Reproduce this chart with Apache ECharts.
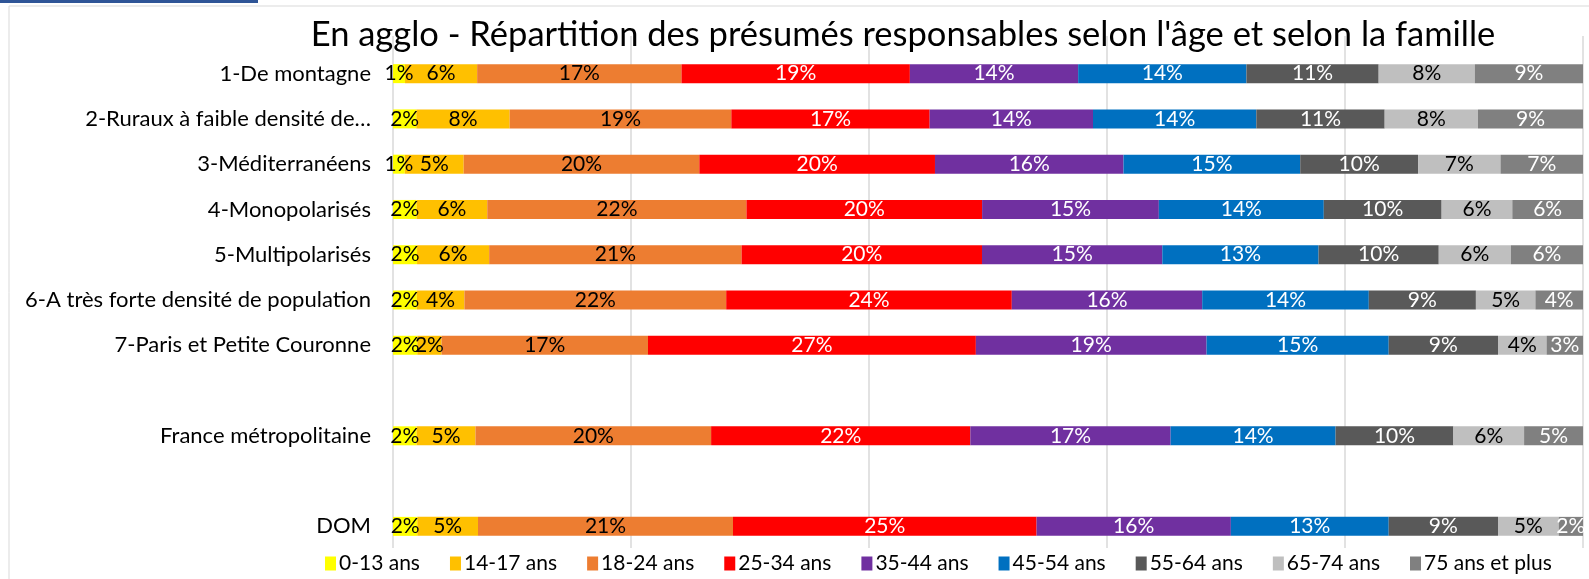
<!DOCTYPE html>
<html>
<head>
<meta charset="utf-8">
<script src="https://cdn.jsdelivr.net/npm/echarts@6/dist/echarts.min.js"></script>
<style>
  html, body { margin: 0; padding: 0; background: #ffffff; }
  #chart { width: 1589px; height: 579px; }
</style>
</head>
<body>
<div id="chart"></div>
<script>
// Families (empty strings are spacer rows between the groups)
const families = [
  '1-De montagne',
  '2-Ruraux à faible densité de…',
  '3-Méditerranéens',
  '4-Monopolarisés',
  '5-Multipolarisés',
  '6-A très forte densité de population',
  '7-Paris et Petite Couronne',
  '',
  'France métropolitaine',
  '',
  'DOM'
];

const ageGroups = ['0-13 ans', '14-17 ans', '18-24 ans', '25-34 ans', '35-44 ans',
                   '45-54 ans', '55-64 ans', '65-74 ans', '75 ans et plus'];

// Share of suspects (%) per family, one array per age group
const age0_13   = [1, 2, 1, 2, 2, 2, 2, null, 2, null, 2];
const age14_17  = [6, 8, 5, 6, 6, 4, 2, null, 5, null, 5];
const age18_24  = [17, 19, 20, 22, 21, 22, 17, null, 20, null, 21];
const age25_34  = [19, 17, 20, 20, 20, 24, 27, null, 22, null, 25];
const age35_44  = [14, 14, 16, 15, 15, 16, 19, null, 17, null, 16];
const age45_54  = [14, 14, 15, 14, 13, 14, 15, null, 14, null, 13];
const age55_64  = [11, 11, 10, 10, 10, 9, 9, null, 10, null, 9];
const age65_74  = [8, 8, 7, 6, 6, 5, 4, null, 6, null, 5];
const age75plus = [9, 9, 7, 6, 6, 4, 3, null, 5, null, 2];

const seriesValues = [age0_13, age14_17, age18_24, age25_34, age35_44,
                      age45_54, age55_64, age65_74, age75plus];

const colors = ['#FFFF00', '#FFC000', '#ED7D31', '#FF0000', '#7030A0',
                '#0070C0', '#595959', '#BFBFBF', '#808080'];
const labelColors = ['#000000', '#000000', '#000000', '#ffffff', '#ffffff',
                     '#ffffff', '#ffffff', '#000000', '#ffffff'];

const FONT = 'Lato';

// 100% stacked: each segment is drawn as its share of the row total
const rowTotals = families.map((_, i) =>
  seriesValues.reduce((s, arr) => s + (arr[i] == null ? 0 : arr[i]), 0));

const series = seriesValues.map((arr, si) => ({
  name: ageGroups[si],
  type: 'bar',
  stack: 'total',
  xAxisIndex: 1,
  yAxisIndex: 1,
  barWidth: 19,
  itemStyle: { color: colors[si] },
  label: {
    show: true,
    position: 'inside',
    fontFamily: FONT,
    fontSize: 21,
    color: labelColors[si],
    formatter: p => arr[p.dataIndex] == null ? '' : arr[p.dataIndex] + '%'
  },
  emphasis: { disabled: true },
  data: arr.map((v, i) => v == null ? null : v / rowTotals[i])
}));

const chart = echarts.init(document.getElementById('chart'), null, { renderer: 'canvas' });
chart.setOption({
  animation: false,
  backgroundColor: '#ffffff',
  title: {
    text: "En agglo - Répartition des présumés responsables selon l'âge et selon la famille",
    left: 898,
    textAlign: 'center',
    top: 12,
    textStyle: { fontFamily: FONT, fontSize: 34.5, fontWeight: 'normal', color: '#000000' }
  },
  legend: {
    data: ageGroups,
    left: 320,
    top: 548,
    width: 1300,
    icon: 'rect',
    itemWidth: 11,
    itemHeight: 14,
    itemGap: 30,
    textStyle: { fontFamily: FONT, fontSize: 21, color: '#000000', padding: [0, 0, 0, -2] }
  },
  graphic: [
    { type: 'rect', shape: { x: 0, y: 0, width: 258, height: 3 }, style: { fill: '#2F5597' } },
    { type: 'line', shape: { x1: 9, y1: 6, x2: 1589, y2: 6 }, style: { stroke: '#d9d9d9', lineWidth: 1 } },
    { type: 'line', shape: { x1: 9, y1: 6, x2: 9, y2: 579 }, style: { stroke: '#d9d9d9', lineWidth: 1 } }
  ],
  grid: [
    // plot area frame carrying the vertical gridlines
    { left: 393, right: 6, top: 36, bottom: 31 },
    // bars
    { left: 393, right: 6, top: 51, bottom: 30 }
  ],
  xAxis: [
    {
      gridIndex: 0, type: 'value', min: 0, max: 1, interval: 0.2,
      axisLine: { show: false }, axisTick: { show: false }, axisLabel: { show: false },
      splitLine: { show: true, lineStyle: { color: '#d9d9d9', width: 1.5 } }
    },
    {
      gridIndex: 1, type: 'value', min: 0, max: 1, interval: 0.2,
      axisLine: { show: false }, axisTick: { show: false }, axisLabel: { show: false },
      splitLine: { show: false }
    }
  ],
  yAxis: [
    { gridIndex: 0, type: 'value', show: false, min: 0, max: 1 },
    {
      gridIndex: 1, type: 'category', data: families, inverse: true,
      axisLine: { show: false }, axisTick: { show: false },
      axisLabel: { fontFamily: FONT, fontSize: 22, color: '#000000', margin: 22 }
    }
  ],
  series: series
});
</script>
</body>
</html>
